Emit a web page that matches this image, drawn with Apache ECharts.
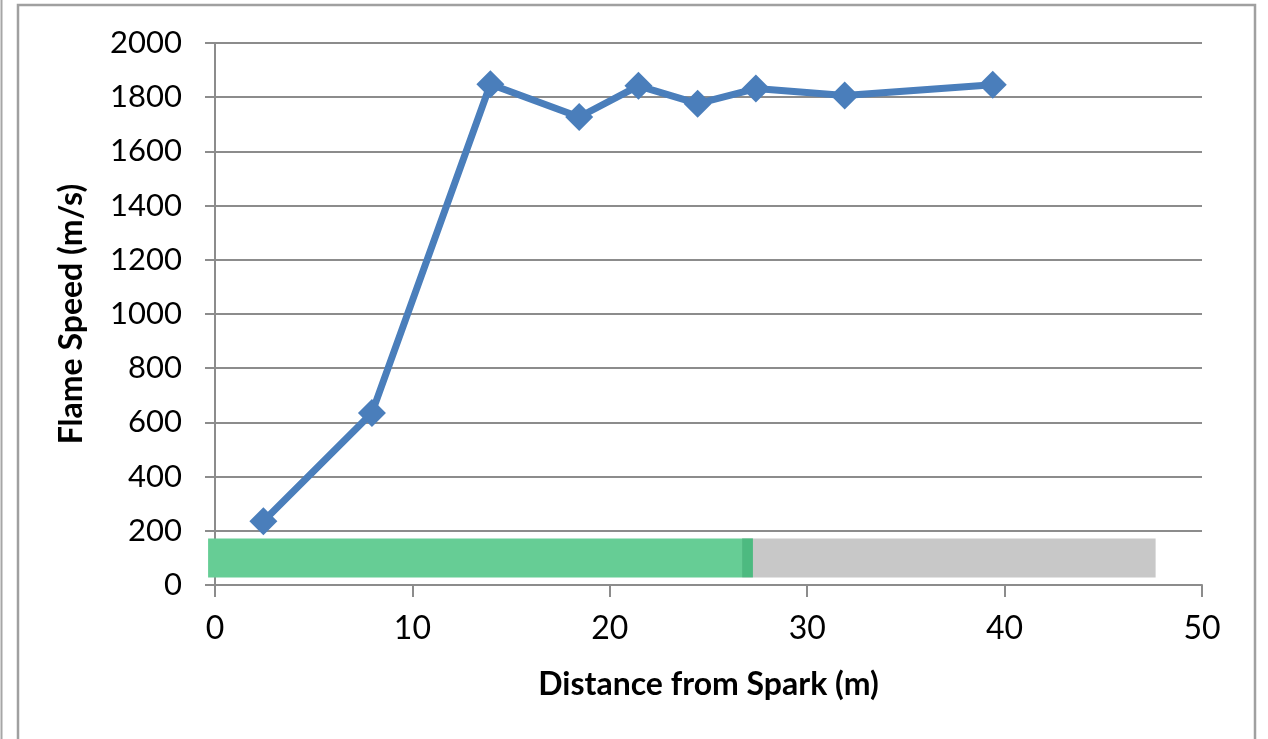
<!DOCTYPE html>
<html>
<head>
<meta charset="utf-8">
<script src="https://cdn.jsdelivr.net/npm/echarts@6/dist/echarts.min.js"></script>
<style>
html,body{margin:0;padding:0;background:#fff;}
#chart{width:1268px;height:739px;}
</style>
</head>
<body>
<div id="chart"></div>
<script>
// Flame speed measurements
const distance = [2.45, 7.95, 13.95, 18.45, 21.45, 24.45, 27.4, 31.9, 39.4];
const flameSpeed = [235, 635, 1848, 1727, 1842, 1776, 1832, 1806, 1846];

// Horizontal band segments [start, end] in m, vertical extent [low, high] in m/s
const bandStart = [26.7, -0.35, 26.7];
const bandEnd = [47.65, 26.7, 27.25];
const bandLow = [28, 28, 28];
const bandHigh = [172, 172, 172];
const bandKind = ['rest', 'reach', 'overlap'];

const xTicks = { min: 0, max: 50, step: 10 };
const yTicks = { min: 0, max: 2000, step: 200 };

const bandColors = { rest: '#C8C8C8', reach: '#66CD95', overlap: '#4DBA80' };
const FONT = 'Lato, "Open Sans", sans-serif';
const GRIDC = '#8C8C8C';

const bandData = bandStart.map((s, i) => [s, bandEnd[i], bandLow[i], bandHigh[i], i]);

const chart = echarts.init(document.getElementById('chart'));
chart.setOption({
  animation: false,
  backgroundColor: '#ffffff',
  graphic: [
    { type: 'line', shape: { x1: 1.5, y1: 0, x2: 1.5, y2: 739 }, style: { stroke: '#A6A6A6', lineWidth: 2 } },
    { type: 'polyline', shape: { points: [[18, 739], [18, 5], [1255, 5], [1255, 739]] }, style: { stroke: '#A0A0A0', lineWidth: 2.5, fill: null } }
  ],
  grid: { left: 215, right: 66, top: 43, bottom: 154, containLabel: false },
  xAxis: {
    type: 'value', min: xTicks.min, max: xTicks.max, interval: xTicks.step,
    name: 'Distance from Spark (m)', nameLocation: 'middle', nameGap: 84,
    nameTextStyle: { fontFamily: FONT, fontSize: 32, fontWeight: 'bold', color: '#000' },
    axisLine: { show: true, onZero: false, lineStyle: { color: GRIDC, width: 2 } },
    axisTick: { show: true, length: 12, inside: false, lineStyle: { color: GRIDC, width: 2 } },
    axisLabel: { fontFamily: FONT, fontSize: 32, color: '#000', margin: 28 },
    splitLine: { show: false }
  },
  yAxis: {
    type: 'value', min: yTicks.min, max: yTicks.max, interval: yTicks.step,
    name: 'Flame Speed (m/s)', nameLocation: 'middle', nameGap: 127, nameRotate: 90,
    nameTextStyle: { fontFamily: FONT, fontSize: 32, fontWeight: 'bold', color: '#000' },
    axisLine: { show: true, lineStyle: { color: GRIDC, width: 2 } },
    axisTick: { show: true, length: 10, inside: false, lineStyle: { color: GRIDC, width: 2 } },
    axisLabel: { fontFamily: FONT, fontSize: 31, color: '#000', margin: 33, formatter: v => String(v) },
    splitLine: { show: true, lineStyle: { color: GRIDC, width: 2 } }
  },
  series: [
    {
      type: 'custom',
      z: 1,
      data: bandData,
      renderItem: function (params, api) {
        const p0 = api.coord([api.value(0), api.value(3)]);
        const p1 = api.coord([api.value(1), api.value(2)]);
        const kind = bandKind[api.value(4)];
        return {
          type: 'rect',
          shape: { x: p0[0], y: p0[1], width: p1[0] - p0[0], height: p1[1] - p0[1] },
          style: { fill: bandColors[kind] }
        };
      },
      encode: { x: [0, 1], y: [2, 3] },
      silent: true
    },
    {
      type: 'line',
      z: 3,
      data: distance.map((d, i) => [d, flameSpeed[i]]),
      symbol: 'diamond',
      symbolSize: 28,
      lineStyle: { color: '#4A7EBB', width: 7 },
      itemStyle: { color: '#4A7EBB' }
    }
  ]
});
</script>
</body>
</html>
